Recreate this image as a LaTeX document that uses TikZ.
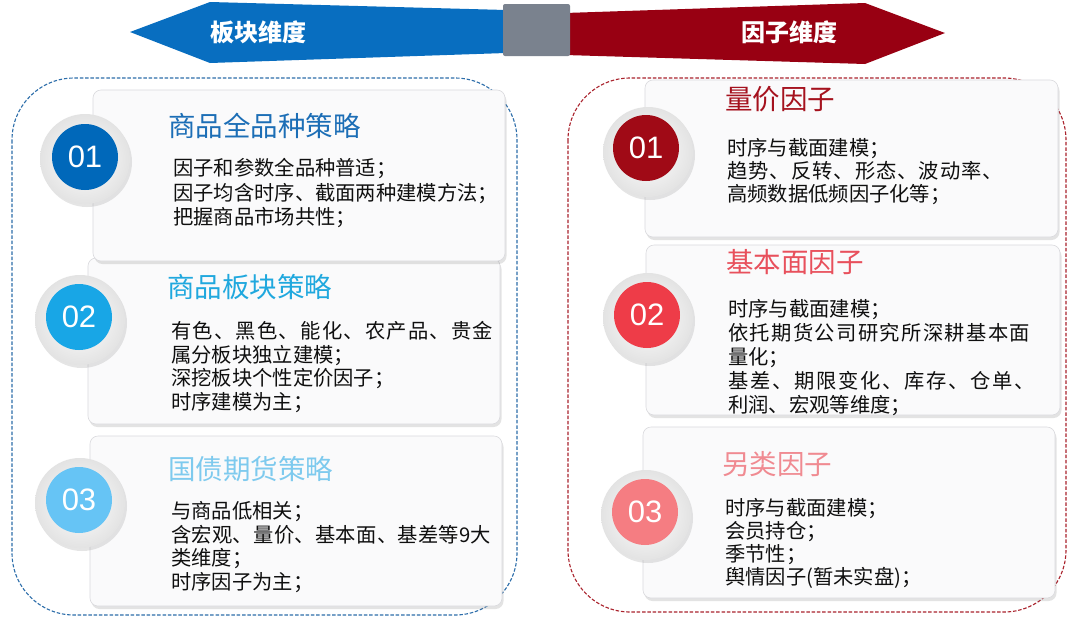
\documentclass[tikz,border=0pt]{standalone}
\usepackage{fontspec}
\setmainfont{Noto Sans CJK SC}
\newfontfamily\numfont{Liberation Sans}
\usetikzlibrary{shadows}
\definecolor{arrblue}{RGB}{8,110,192}
\definecolor{arrred}{RGB}{152,0,18}
\definecolor{arrgray}{RGB}{122,130,142}
\definecolor{dashblue}{RGB}{45,110,170}
\definecolor{dashred}{RGB}{170,35,45}
\definecolor{cardfill}{RGB}{250,250,251}
\definecolor{cardline}{RGB}{218,218,222}
\definecolor{cA}{RGB}{0,104,186}
\definecolor{cB}{RGB}{24,166,230}
\definecolor{cC}{RGB}{102,196,245}
\definecolor{cD}{RGB}{160,10,22}
\definecolor{cE}{RGB}{238,60,72}
\definecolor{cF}{RGB}{245,125,130}
\definecolor{tA}{RGB}{28,110,182}
\definecolor{tB}{RGB}{32,168,222}
\definecolor{tC}{RGB}{126,202,238}
\definecolor{tD}{RGB}{165,18,30}
\definecolor{tE}{RGB}{232,80,92}
\definecolor{tF}{RGB}{240,138,145}
\definecolor{bodytext}{RGB}{15,15,15}
\makeatletter
\newcommand\jl[2]{\hbox to #1{\jl@a#2\jl@end}}
\def\jl@end{}
\def\jl@a#1{#1\futurelet\jl@next\jl@b}
\def\jl@b{\ifx\jl@next\jl@end\expandafter\@gobble\else\hfill\expandafter\jl@a\fi}
\makeatother
\tikzset{
  card/.style={rounded corners=8pt, fill=cardfill, draw=cardline, line width=0.6pt,
    drop shadow={opacity=0.22, shadow xshift=1.5pt, shadow yshift=-3pt}},
  ring/.style={circle, minimum size=90pt, inner sep=0pt, shading=radial,
    inner color=white, outer color=gray!22,
    drop shadow={opacity=0.2, shadow xshift=2pt, shadow yshift=-3pt}},
  disc/.style={circle, minimum size=66pt, inner sep=0pt, fill=#1, text=white,
    font=\numfont\fontsize{31}{31}\selectfont},
  title/.style={anchor=west, inner sep=0pt, text=#1, font=\fontsize{27.5}{30}\selectfont},
  body/.style={anchor=north west, inner sep=0pt, align=left, text=bodytext,
    font=\fontsize{20.3}{#1}\selectfont},
  dimlabel/.style={text=white, inner sep=0pt, font=\bfseries\fontsize{24}{24}\selectfont},
  dashbox/.style={draw=#1, dash pattern=on 3.5pt off 1.8pt, line width=1.1pt, rounded corners=62pt}
}
\begin{document}
\begin{tikzpicture}[x=1pt,y=-1pt]
\useasboundingbox[fill=white] (0,0) rectangle (1080,622);
% top arrows
\fill[arrblue] (130,32) -- (210,2) -- (506,10) -- (506,53) -- (210,63) -- cycle;
\fill[arrred] (565,13) -- (865,3) -- (945,33) -- (865,64) -- (565,55) -- cycle;
\fill[arrgray, rounded corners=2pt] (503,4) rectangle (570,56);
\node[dimlabel] (lblA) at (258,32) {板块维度};
\node[dimlabel] (lblB) at (789,32) {因子维度};
% dashed frames
\draw[dashbox=dashblue] (12,78) rectangle (517,615);
\draw[dashbox=dashred] (568,78) rectangle (1066,612);
% left cards
\path[card] (88,258) rectangle (500,424);
\path[card] (93,90) rectangle (505,261);
\path[card] (90,436) rectangle (502,606);
% right cards
\path[card] (645,80) rectangle (1058,237);
\path[card] (646,245) rectangle (1060,415);
\path[card] (643,427) rectangle (1055,598);
% circles left
\node[ring] (ringA) at (85,159) {};
\node[disc=cA] (discA) at (85,157) {01};
\node[ring] (ringB) at (80,320) {};
\node[disc=cB] (discB) at (79,317) {02};
\node[ring] (ringC) at (80,503) {};
\node[disc=cC] (discC) at (79,500) {03};
% circles right
\node[ring] (ringD) at (648,152) {};
\node[disc=cD] (discD) at (646,148) {01};
\node[ring] (ringE) at (648,318) {};
\node[disc=cE] (discE) at (647,315) {02};
\node[ring] (ringF) at (646,515) {};
\node[disc=cF] (discF) at (645,512) {03};
% titles
\node[title=tA] (titA) at (168,126) {商品全品种策略};
\node[title=tB] (titB) at (167,287) {商品板块策略};
\node[title=tC] (titC) at (168,469) {国债期货策略};
\node[title=tD] (titD) at (725,99) {量价因子};
\node[title=tE] (titE) at (726,262) {基本面因子};
\node[title=tF] (titF) at (722,464) {另类因子};
% bodies
\node[body=24.5] (bodA) at (173,158.5) {因子和参数全品种普适；\\因子均含时序、截面两种建模方法；\\把握商品市场共性；};
\node[body=23.5] (bodB) at (171,321.5) {\jl{322pt}{有色、黑色、能化、农产品、贵金}\\属分板块独立建模；\\深挖板块个性定价因子；\\时序建模为主；};
\node[body=23.5] (bodC) at (171,501.5) {与商品低相关；\\\jl{320pt}{含宏观、量价、基本面、基差等9大}\\类维度；\\时序因子为主；};
\node[body=23] (bodD) at (727,138.5) {时序与截面建模；\\\jl{276pt}{趋势、反转、形态、波动率、}\\高频数据低频因子化等；};
\node[body=24] (bodE) at (728,299.5) {时序与截面建模；\\\jl{302pt}{依托期货公司研究所深耕基本面}\\量化；\\\jl{307pt}{基差、期限变化、库存、仓单、}\\利润、宏观等维度；};
\node[body=23] (bodF) at (725,498.5) {时序与截面建模；\\会员持仓；\\季节性；\\舆情因子(暂未实盘)；};
\end{tikzpicture}
\end{document}
